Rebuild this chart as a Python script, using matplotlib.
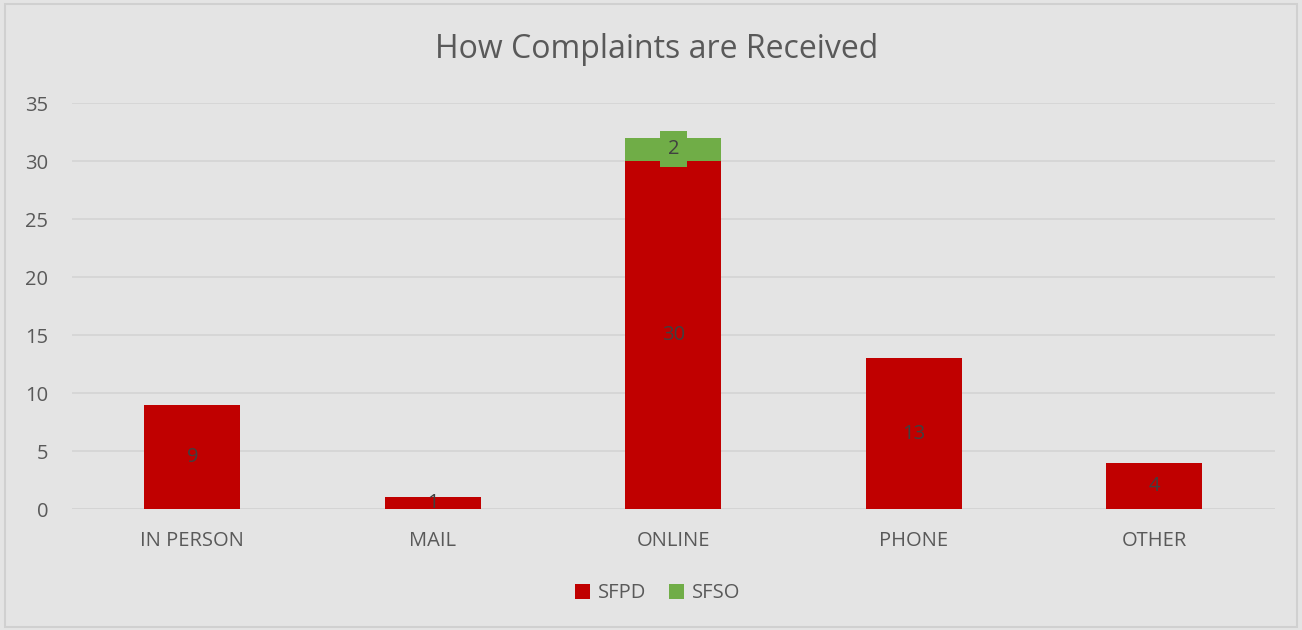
import matplotlib.pyplot as plt
import numpy as np
from matplotlib.patches import Rectangle

categories = ['IN PERSON', 'MAIL', 'ONLINE', 'PHONE', 'OTHER']
sfpd = [9, 1, 30, 13, 4]
sfso = [0, 0, 2, 0, 0]
yticks = [0, 5, 10, 15, 20, 25, 30, 35]

RED = '#C00000'
GREEN = '#70AD47'
BG = '#E4E4E4'
TXT = '#595959'

plt.rcParams['font.family'] = ['Open Sans', 'DejaVu Sans']

fig = plt.figure(figsize=(13.02, 6.30), dpi=100, facecolor=BG)
ax = fig.add_axes([0.0553, 0.192, 0.9237, 0.6445], facecolor=BG)

x = np.arange(len(categories))
width = 0.4

bars1 = ax.bar(x, sfpd, width, color=RED, label='SFPD', zorder=3)
bars2 = ax.bar(x, sfso, width, bottom=sfpd, color=GREEN, label='SFSO', zorder=3)

# Data labels, centred in each segment
for bar, val in zip(bars1, sfpd):
    ax.text(bar.get_x() + bar.get_width() / 2, val / 2, str(val),
            ha='center', va='center', fontsize=14.5, color='#404040', zorder=4)
for bar, base, val in zip(bars2, sfpd, sfso):
    if val:
        ax.text(bar.get_x() + bar.get_width() / 2, base + val / 2, str(val),
                ha='center', va='center', fontsize=14.5, color='#404040', zorder=4,
                bbox=dict(boxstyle='square,pad=0.4', facecolor=GREEN, edgecolor='none'))

ax.set_xlim(-0.5, len(categories) - 0.5)
ax.set_ylim(0, 35)
ax.set_yticks(yticks)
ax.set_xticks(x)
ax.set_xticklabels(categories)
ax.tick_params(axis='both', length=0, labelsize=14.5, labelcolor=TXT)
ax.tick_params(axis='y', pad=17)
ax.tick_params(axis='x', pad=16)
ax.grid(True, axis='y', color='#D4D4D4', linewidth=1.2, zorder=0)
ax.axhline(0, color='#D4D4D4', linewidth=1.2, zorder=1)
for s in ax.spines.values():
    s.set_visible(False)

fig.text(0.504, 0.922, 'How Complaints are Received', ha='center', va='center',
         fontsize=23, color=TXT)

leg = fig.legend(loc='center', bbox_to_anchor=(0.505, 0.058), ncol=2, frameon=False,
                 fontsize=14.5, labelcolor=TXT, handlelength=0.75, handleheight=0.75,
                 handletextpad=0.4, columnspacing=1.1)

# chart border
fig.add_artist(Rectangle((0.004, 0.004), 0.992, 0.99, transform=fig.transFigure,
                         fill=False, edgecolor='#D0D0D0', linewidth=1.5))

fig.savefig('out.png', dpi=100, facecolor=BG)
